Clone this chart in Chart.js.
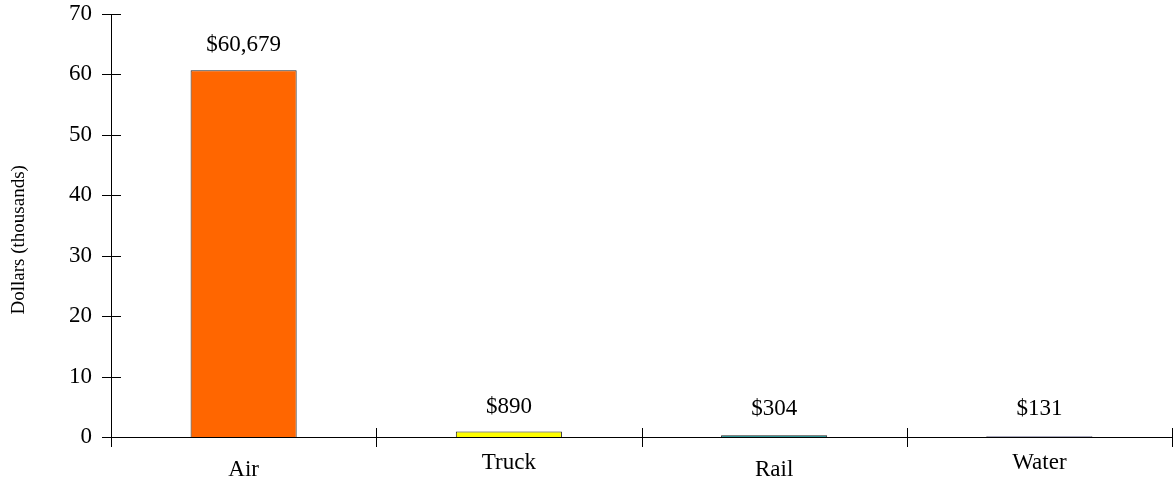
<!DOCTYPE html>
<html>
<head>
<meta charset="utf-8">
<script src="https://cdn.jsdelivr.net/npm/chart.js@4/dist/chart.umd.min.js"></script>
<style>
  html, body { margin: 0; padding: 0; background: #fff; }
  #wrap { width: 1176px; height: 480px; }
</style>
</head>
<body>
<div id="wrap"><canvas id="myChart" width="1176" height="480"></canvas></div>
<script>
var modes = ['Air', 'Truck', 'Rail', 'Water'];
var costs = [60.679, 0.890, 0.304, 0.131];   // thousands of dollars
var cost_labels = ['$60,679', '$890', '$304', '$131'];
var bar_colors = ['#FF6600', '#FFFF00', '#339999', '#666699'];
var y_ticks = [0, 10, 20, 30, 40, 50, 60, 70];

var serif = "'Liberation Serif', 'DejaVu Serif', serif";

// tick marks crossing the axes + value labels over the bars
const axisMarks = {
    id: 'axisMarks',
    afterDraw(chart) {
        const ctx = chart.ctx;
        const xs = chart.scales.x;
        const ys = chart.scales.y;
        const x0 = ys.right;
        const y0 = ys.getPixelForValue(0);
        ctx.save();
        ctx.strokeStyle = '#000';
        ctx.lineWidth = 1;
        ctx.beginPath();
        // y axis runs a bit below zero
        ctx.moveTo(x0 + 0.5, y0);
        ctx.lineTo(x0 + 0.5, y0 + 10);
        y_ticks.forEach(function (v) {
            const py = Math.round(ys.getPixelForValue(v)) + 0.5;
            ctx.moveTo(x0 - 9, py);
            ctx.lineTo(x0 + 10, py);
        });
        const half = (xs.getPixelForValue(1) - xs.getPixelForValue(0)) / 2;
        for (let i = 1; i <= modes.length; i++) {
            const px = Math.round(xs.getPixelForValue(i - 1) + half) + 0.5;
            ctx.moveTo(px, y0 - 9);
            ctx.lineTo(px, y0 + 10);
        }
        ctx.stroke();

        ctx.fillStyle = '#000';
        ctx.font = '23px ' + serif;
        ctx.textAlign = 'center';
        ctx.textBaseline = 'alphabetic';
        chart.getDatasetMeta(0).data.forEach(function (bar, i) {
            ctx.fillText(cost_labels[i], bar.x, Math.min(bar.y, y0 - 3) - 19);
        });
        ctx.restore();
    }
};

const ctx = document.getElementById('myChart').getContext('2d');
var myChart = new Chart(ctx, {
    type: 'bar',
    data: {
        labels: modes,
        datasets: [{
            data: costs,
            backgroundColor: bar_colors,
            borderColor: '#222',
            borderWidth: 1,
            borderSkipped: 'bottom',
            categoryPercentage: 1.0,
            barPercentage: 0.4
        }]
    },
    options: {
        responsive: false,
        animation: false,
        layout: { padding: { top: 14, right: 4, left: 0, bottom: 0 } },
        plugins: {
            legend: { display: false },
            tooltip: { enabled: false }
        },
        scales: {
            x: {
                grid: { display: false },
                border: { display: true, color: '#000', width: 1 },
                ticks: {
                    color: '#000',
                    padding: 12,
                    // every other category name sits a little higher
                    font: function (c) {
                        return { family: serif, size: 23, lineHeight: c.index % 2 ? '12px' : '26px' };
                    }
                },
                afterFit: function (s) { s.height = 43; }
            },
            y: {
                min: 0,
                max: 70,
                grid: { display: false },
                border: { display: true, color: '#000', width: 1 },
                ticks: {
                    stepSize: 10,
                    color: '#000',
                    font: { family: serif, size: 23 },
                    padding: 11
                },
                title: {
                    display: true,
                    // trailing spaces push the title a bit below centre
                    text: 'Dollars (thousands)      ',
                    color: '#000',
                    font: { family: serif, size: 19 },
                    padding: { top: 8, bottom: 0 }
                },
                afterFit: function (s) {
                    s.width = 111;
                    s.paddingTop = 0;
                    s.paddingBottom = 0;
                }
            }
        }
    },
    plugins: [axisMarks]
});
</script>
</body>
</html>
